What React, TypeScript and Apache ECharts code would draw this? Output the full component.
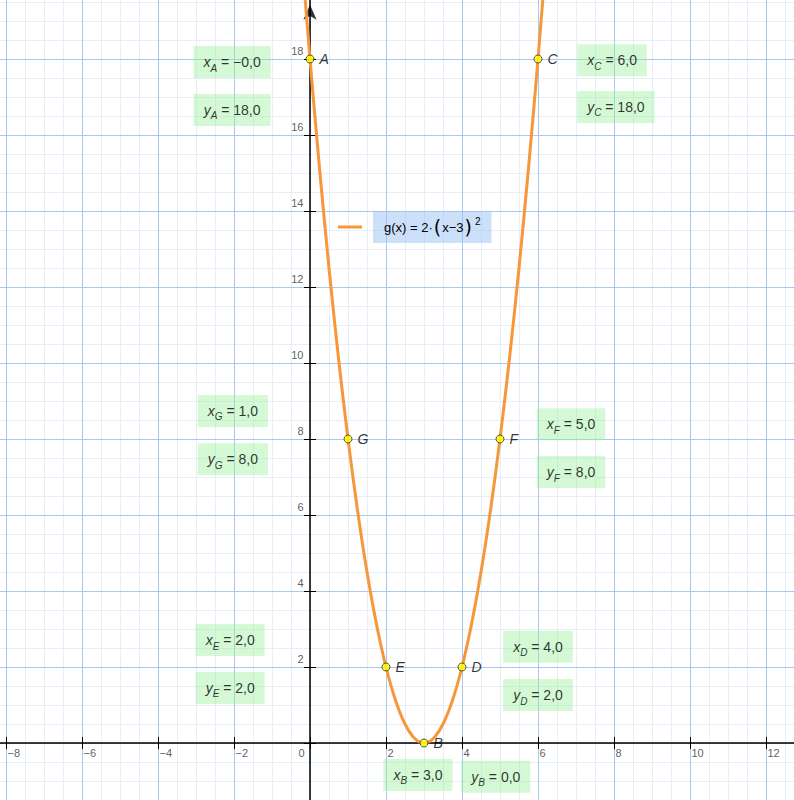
import { useEffect, useRef } from 'react'
import * as echarts from 'echarts'

// points on g(x) = 2·(x−3)²
const pointNames = ['A', 'B', 'C', 'D', 'E', 'F', 'G']
const pointX = [0, 3, 6, 4, 2, 5, 1]
const pointY = [18, 0, 18, 2, 2, 8, 8]
const xTexts = ['−0,0', '3,0', '6,0', '4,0', '2,0', '5,0', '1,0']
const yTexts = ['18,0', '0,0', '18,0', '2,0', '2,0', '8,0', '8,0']

// the graph of g
const curveX = [
  -0.25, 0, 0.25, 0.5, 0.75, 1, 1.25, 1.5, 1.75, 2, 2.25, 2.5, 2.75, 3,
  3.25, 3.5, 3.75, 4, 4.25, 4.5, 4.75, 5, 5.25, 5.5, 5.75, 6, 6.25,
]
const curveY = [
  21.125, 18, 15.125, 12.5, 10.125, 8, 6.125, 4.5, 3.125, 2, 1.125, 0.5, 0.125, 0,
  0.125, 0.5, 1.125, 2, 3.125, 4.5, 6.125, 8, 10.125, 12.5, 15.125, 18, 21.125,
]

const xTicks = [-8, -6, -4, -2, 2, 4, 6, 8, 10, 12]
const yTicks = [2, 4, 6, 8, 10, 12, 14, 16, 18]

const funcName = 'g(x) = 2·(x−3)²'

// where the coordinate boxes sit (data coords of their centres)
const xBoxAt = [
  [-2.05, 17.92], [2.84, -0.84], [7.95, 17.97], [6.0, 2.53],
  [-2.1, 2.71], [6.87, 8.39], [-2.03, 8.74],
]
const yBoxAt = [
  [-2.05, 16.66], [4.89, -0.89], [8.05, 16.74], [6.0, 1.26],
  [-2.1, 1.45], [6.87, 7.13], [-2.03, 7.47],
]
const arrowAt = [0, 19.43]

const FONT = '"Liberation Sans", Arial, sans-serif'
const MAJOR = '#a9c8ef'
const MINOR = '#e6eefa'
const ORANGE = '#f8963a'
const TICK_TEXT = '#333'
const NO_BORDER = { textBorderWidth: 0, textBorderColor: 'transparent', textShadowBlur: 0 }

const minus = (v: number) => String(v).replace('-', '−')

const boxRich = {
  v: { fontSize: 14, fontStyle: 'italic', lineHeight: 22, fontFamily: FONT, color: '#000', ...NO_BORDER },
  s: { fontSize: 10, fontStyle: 'italic', lineHeight: 10, verticalAlign: 'bottom', fontFamily: FONT, color: '#000', ...NO_BORDER },
  m: { fontSize: 14, lineHeight: 22, fontFamily: FONT, color: '#000', ...NO_BORDER },
}

const boxSeries = (name: string, at: number[][], letter: string, texts: string[]) => ({
  name,
  type: 'scatter',
  symbol: 'circle',
  symbolSize: 1,
  itemStyle: { color: 'rgba(0,0,0,0)' },
  silent: true,
  z: 6,
  data: at.map((p) => p),
  label: {
    show: true,
    position: 'inside',
    backgroundColor: 'rgba(150,240,150,0.5)',
    padding: [5, 10],
    color: '#000',
    ...NO_BORDER,
    formatter: (p: any) =>
      `{v|${letter}}{s|${pointNames[p.dataIndex]}}{m| = ${texts[p.dataIndex]}}`,
    rich: boxRich,
  },
})

// tick labels as texts pinned to the axis values
const tickLabelSeries = (name: string, data: number[][], label: any) => ({
  name,
  type: 'scatter',
  symbol: 'circle',
  symbolSize: 1,
  itemStyle: { color: 'rgba(0,0,0,0)' },
  silent: true,
  z: 5,
  data,
  label: {
    show: true,
    fontSize: 11,
    color: TICK_TEXT,
    fontFamily: FONT,
    ...NO_BORDER,
    ...label,
  },
})

const ticksOnly = (dim: 'x' | 'y', position: string) => ({
  type: 'value',
  min: dim === 'x' ? -10 : -2,
  max: dim === 'x' ? 14 : 20,
  interval: 2,
  position,
  z: 3,
  axisLine: { show: false, onZero: true, onZeroAxisIndex: 0 },
  axisTick: { show: true, length: 6, lineStyle: { color: '#000', width: 1 } },
  axisLabel: { show: false },
  splitLine: { show: false },
})

const minorAxis = (dim: 'x' | 'y', position: string) => ({
  type: 'value',
  min: dim === 'x' ? -10 : -2,
  max: dim === 'x' ? 14 : 20,
  interval: 0.5,
  position,
  z: 1,
  axisLine: { show: false, onZero: false },
  axisTick: { show: false },
  axisLabel: { show: false },
  splitLine: { show: true, lineStyle: { color: MINOR, width: 1 } },
})

const majorAxis = (dim: 'x' | 'y', position: string) => ({
  type: 'value',
  min: dim === 'x' ? -10 : -2,
  max: dim === 'x' ? 14 : 20,
  interval: 2,
  position,
  z: 3,
  axisLine: { show: true, onZero: true, onZeroAxisIndex: 0, lineStyle: { color: '#000', width: 1.5 } },
  axisTick: { show: true, length: 6, lineStyle: { color: '#000', width: 1 } },
  axisLabel: { show: false },
  splitLine: { show: true, lineStyle: { color: MAJOR, width: 1 } },
})

export default function App() {
  const main = useRef<HTMLDivElement>(null)
  useEffect(() => {
    const option = {
      animation: false,
      grid: {
        left: -70,
        right: -48,
        top: -17,
        bottom: -19,
        containLabel: false,
        outerBoundsMode: 'none',
      },
      legend: {
        left: 338,
        top: 211,
        padding: 0,
        selectedMode: false,
        itemWidth: 30,
        itemHeight: 14,
        icon: 'path://M0,0H24V3H0Z M30,0H30V3H30Z',
        itemStyle: { borderWidth: 0 },
        data: [funcName],
        formatter: () => '{t|g(x) = 2·}{p|(}{t|x−3}{p|)}{e|2}',
        textStyle: {
          backgroundColor: 'rgba(153,194,245,0.5)',
          padding: [5, 11],
          color: '#000',
          fontFamily: FONT,
          rich: {
            t: { fontSize: 13, lineHeight: 22, fontFamily: FONT, color: '#000' },
            p: { fontSize: 19, lineHeight: 22, fontFamily: 'DejaVu Sans ExtraLight, DejaVu Sans', color: '#000', padding: [0, 1] },
            e: { fontSize: 10, lineHeight: 14, verticalAlign: 'top', fontFamily: FONT, color: '#000', padding: [0, 0, 0, 2] },
          },
        },
      },
      xAxis: [majorAxis('x', 'bottom'), ticksOnly('x', 'top'), minorAxis('x', 'bottom')],
      yAxis: [majorAxis('y', 'left'), ticksOnly('y', 'right'), minorAxis('y', 'left')],
      series: [
        {
          name: funcName,
          type: 'line',
          data: curveX.map((x, i) => [x, curveY[i]]),
          symbol: 'none',
          showSymbol: false,
          smooth: 0.3,
          z: 4,
          lineStyle: { color: ORANGE, width: 3 },
          itemStyle: { color: ORANGE },
        },
        {
          name: 'arrow',
          type: 'scatter',
          data: [arrowAt],
          symbol: 'arrow',
          symbolSize: [10, 15],
          itemStyle: { color: '#000' },
          silent: true,
          z: 3,
        },
        {
          name: 'points',
          type: 'scatter',
          data: pointX.map((x, i) => ({ value: [x, pointY[i]], name: pointNames[i] })),
          symbol: 'circle',
          symbolSize: 8,
          z: 7,
          itemStyle: { color: '#ffff00', borderColor: '#333', borderWidth: 1 },
          label: {
            show: true,
            position: 'right',
            distance: 5,
            formatter: '{b}',
            fontStyle: 'italic',
            fontSize: 14,
            color: '#000',
            fontFamily: FONT,
            ...NO_BORDER,
          },
        },
        tickLabelSeries('xTicks', xTicks.map((v) => [v, 0]), {
          position: [2, 5],
          align: 'left',
          verticalAlign: 'top',
          formatter: (p: any) => minus(xTicks[p.dataIndex]),
        }),
        tickLabelSeries('yTicks', yTicks.map((v) => [0, v]), {
          position: [-6, -2],
          align: 'right',
          verticalAlign: 'bottom',
          formatter: (p: any) => String(yTicks[p.dataIndex]),
        }),
        tickLabelSeries('origin', [[0, 0]], {
          position: [-5, 5],
          align: 'right',
          verticalAlign: 'top',
          formatter: '0',
        }),
        boxSeries('xBoxes', xBoxAt, 'x', xTexts),
        boxSeries('yBoxes', yBoxAt, 'y', yTexts),
      ],
    }
    const chart = echarts.init(main.current, null, { renderer: 'svg' })
    chart.setOption(option as any)
    return () => {
      chart.dispose()
    }
  }, [])
  return (
    <div
      ref={main}
      style={{ position: 'absolute', left: 0, top: 0, width: '794px', height: '800px', background: '#fff' }}
    ></div>
  )
}
